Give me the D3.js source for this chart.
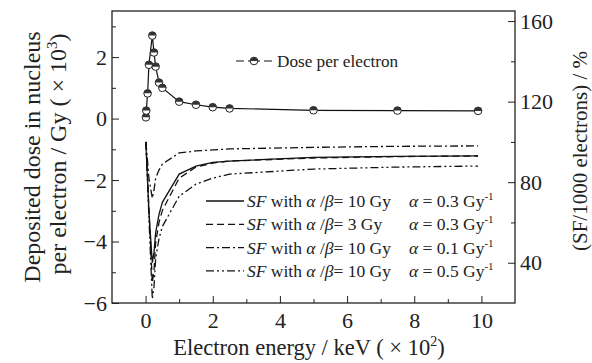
<!DOCTYPE html>
<html lang="en">

<head>
	<meta charset="utf-8">
	<title>Dose per electron and SF</title>
	<script type="text/javascript" src="https://cdn.jsdelivr.net/npm/d3@7"></script>
	<style type="text/css">
		body { margin: 0; background: #fff; }
		svg text { font-family: "Liberation Serif", "Times New Roman", serif; }
		.axis path, .axis line { stroke: #222; }
		.axis text { font-size: 22px; fill: #222; }
	</style>
</head>

<body>
	<script type="text/javascript">

		// electron energy (x 10^2 keV)
		var energy = [0.01, 0.02, 0.06, 0.1, 0.2, 0.25, 0.3, 0.4, 0.5, 1, 1.5, 2, 2.5, 5, 7.5, 9.9];
		// deposited dose per electron (x 10^3 Gy)
		var dose = [0.04, 0.26, 0.82, 1.75, 2.7, 2.15, 1.69, 1.17, 1.0, 0.55, 0.45, 0.37, 0.33, 0.27, 0.26, 0.25];
		// SF / 1000 electrons (%)
		var sfAb10a03 = [100, 95, 80, 65, 40, 45, 55, 64, 70, 84, 88, 89.8, 90.5, 92.3, 92.8, 93.1];
		var sfAb3a03 = [100, 96, 82, 67, 30, 36, 50, 60, 66, 82, 87.5, 89.5, 90.5, 92, 92.7, 93];
		var sfAb10a01 = [100, 98, 90, 82, 72, 76, 82, 86, 89, 94.5, 95.5, 96, 96.5, 97.3, 97.8, 98];
		var sfAb10a05 = [100, 96, 80, 62, 22, 28, 42, 52, 58, 73, 79, 82, 84, 86.5, 87.5, 88];

		var xTicks = [0, 2, 4, 6, 8, 10];
		var xMinor = [1, 3, 5, 7, 9];
		var yTicks = [-6, -4, -2, 0, 2];
		var yMinor = [-5, -3, -1, 1, 3];
		var rTicks = [40, 80, 120, 160];
		var rMinor = [60, 100, 140];

		var w = 592;
		var h = 363;
		var pLeft = 112, pRight = 515, pTop = 11, pBottom = 303;

		var svg = d3.select("body")
			.append("svg")
			.attr("width", w)
			.attr("height", h);

		var x = d3.scaleLinear().domain([-1, 11]).range([pLeft, pRight]);
		var yL = d3.scaleLinear().domain([-6, 3.5]).range([pBottom, pTop]);
		var yR = d3.scaleLinear().domain([20, 165]).range([pBottom, pTop]);

		// axes, ticks point inside
		svg.append("g").attr("class", "axis")
			.attr("transform", "translate(0," + pBottom + ")")
			.call(d3.axisBottom(x).tickValues(xTicks).tickSize(-7).tickPadding(9).tickFormat(d3.format("d")));
		svg.append("g").attr("class", "axis")
			.attr("transform", "translate(0," + pBottom + ")")
			.call(d3.axisBottom(x).tickValues(xMinor).tickSize(-4).tickFormat(""));

		svg.append("g").attr("class", "axis")
			.attr("transform", "translate(" + pLeft + ",0)")
			.call(d3.axisLeft(yL).tickValues(yTicks).tickSize(-7).tickPadding(5).tickFormat(function(d){
				return d < 0 ? "\u2212" + Math.abs(d) : d;
			}));
		svg.append("g").attr("class", "axis")
			.attr("transform", "translate(" + pLeft + ",0)")
			.call(d3.axisLeft(yL).tickValues(yMinor).tickSize(-4).tickFormat(""));

		svg.append("g").attr("class", "axis")
			.attr("transform", "translate(" + pRight + ",0)")
			.call(d3.axisRight(yR).tickValues(rTicks).tickSize(-7).tickPadding(5));
		svg.append("g").attr("class", "axis")
			.attr("transform", "translate(" + pRight + ",0)")
			.call(d3.axisRight(yR).tickValues(rMinor).tickSize(-4).tickFormat(""));

		svg.selectAll(".axis .domain").remove();
		// d3 puts a sans-serif font on the axis groups, drop it so the serif css applies
		svg.selectAll(".axis").attr("font-family", null);

		// frame
		svg.append("rect")
			.attr("x", pLeft)
			.attr("y", pTop)
			.attr("width", pRight - pLeft)
			.attr("height", pBottom - pTop)
			.attr("fill", "none")
			.attr("stroke", "#222")
			.attr("stroke-width", 1.3);

		// SF curves
		var sfSeries = [
			{ values: sfAb10a03, dash: null },
			{ values: sfAb3a03, dash: "7,4" },
			{ values: sfAb10a01, dash: "8,3,2,3" },
			{ values: sfAb10a05, dash: "8,3,2,3,2,3" }
		];

		var sfLine = d3.line()
			.x(function(d){ return x(d[0]); })
			.y(function(d){ return yR(d[1]); });

		sfSeries.forEach(function(s){
			svg.append("path")
				.datum(energy.map(function(e, i){ return [e, s.values[i]]; }))
				.attr("d", sfLine)
				.attr("fill", "none")
				.attr("stroke", "#111")
				.attr("stroke-width", 1.3)
				.attr("stroke-dasharray", s.dash);
		});

		// dose per electron
		var doseLine = d3.line()
			.x(function(d){ return x(d[0]); })
			.y(function(d){ return yL(d[1]); });

		var doseData = energy.map(function(e, i){ return [e, dose[i]]; });

		svg.append("path")
			.datum(doseData)
			.attr("d", doseLine)
			.attr("fill", "none")
			.attr("stroke", "#111")
			.attr("stroke-width", 1.2);

		function halfMarker(g, cx, cy) {
			var r = 3.8;
			g.append("circle").attr("cx", cx).attr("cy", cy).attr("r", r)
				.attr("fill", "#fff").attr("stroke", "#222").attr("stroke-width", 1);
			g.append("path")
				.attr("d", "M" + (cx - r) + "," + cy + " A" + r + "," + r + " 0 0,1 " + (cx + r) + "," + cy + " Z")
				.attr("fill", "#333");
		}

		doseData.forEach(function(d){
			halfMarker(svg, x(d[0]), yL(d[1]));
		});

		// legend: dose
		svg.append("line")
			.attr("x1", 236).attr("x2", 272).attr("y1", 61).attr("y2", 61)
			.attr("stroke", "#111").attr("stroke-width", 1.2)
			.attr("stroke-dasharray", "8,4,12,4,8");
		halfMarker(svg, 254, 61);
		svg.append("text")
			.attr("x", 277).attr("y", 67)
			.attr("font-size", "17.2px")
			.attr("fill", "#222")
			.text("Dose per electron");

		// legend: SF
		var legendAb = ["10", "3", "10", "10"];
		var legendA = ["0.3", "0.3", "0.1", "0.5"];

		sfSeries.forEach(function(s, i){
			var ly = 201 + i * 23.3;
			svg.append("line")
				.attr("x1", 206).attr("x2", 244).attr("y1", ly).attr("y2", ly)
				.attr("stroke", "#111").attr("stroke-width", 1.3)
				.attr("stroke-dasharray", s.dash);
			var t = svg.append("text")
				.attr("x", 247).attr("y", ly + 6)
				.attr("font-size", "17.5px")
				.attr("fill", "#222");
			t.append("tspan").attr("font-style", "italic").text("SF");
			t.append("tspan").text(" with ");
			t.append("tspan").attr("font-style", "italic").text("\u03b1");
			t.append("tspan").text(" /");
			t.append("tspan").attr("font-style", "italic").text("\u03b2");
			t.append("tspan").text("= " + legendAb[i] + " Gy");

			var t2 = svg.append("text")
				.attr("x", 409).attr("y", ly + 6)
				.attr("font-size", "17.5px")
				.attr("fill", "#222");
			t2.append("tspan").attr("font-style", "italic").text("\u03b1");
			t2.append("tspan").text(" = " + legendA[i] + " Gy");
			t2.append("tspan").attr("dy", -7).attr("font-size", "11px").text("-1");
		});

		// axis titles
		var xt = svg.append("text")
			.attr("x", 309).attr("y", 355)
			.attr("text-anchor", "middle")
			.attr("font-size", "22.5px")
			.attr("fill", "#222");
		xt.append("tspan").text("Electron energy / keV ( \u00d7 10");
		xt.append("tspan").attr("dy", -9).attr("font-size", "14px").text("2");
		xt.append("tspan").attr("dy", 9).text(")");

		svg.append("text")
			.attr("transform", "translate(40,157) rotate(-90)")
			.attr("text-anchor", "middle")
			.attr("font-size", "24px")
			.attr("fill", "#222")
			.text("Deposited dose in nucleus");

		var yt = svg.append("text")
			.attr("transform", "translate(66,154) rotate(-90)")
			.attr("text-anchor", "middle")
			.attr("font-size", "24px")
			.attr("fill", "#222");
		yt.append("tspan").text("per electron / Gy ( \u00d7 10");
		yt.append("tspan").attr("dy", -9).attr("font-size", "15px").text("3");
		yt.append("tspan").attr("dy", 9).text(")");

		svg.append("text")
			.attr("transform", "translate(587,151) rotate(-90)")
			.attr("text-anchor", "middle")
			.attr("font-size", "21px")
			.attr("fill", "#222")
			.text("(SF/1000 electrons) / %");

	</script>
</body>

</html>
